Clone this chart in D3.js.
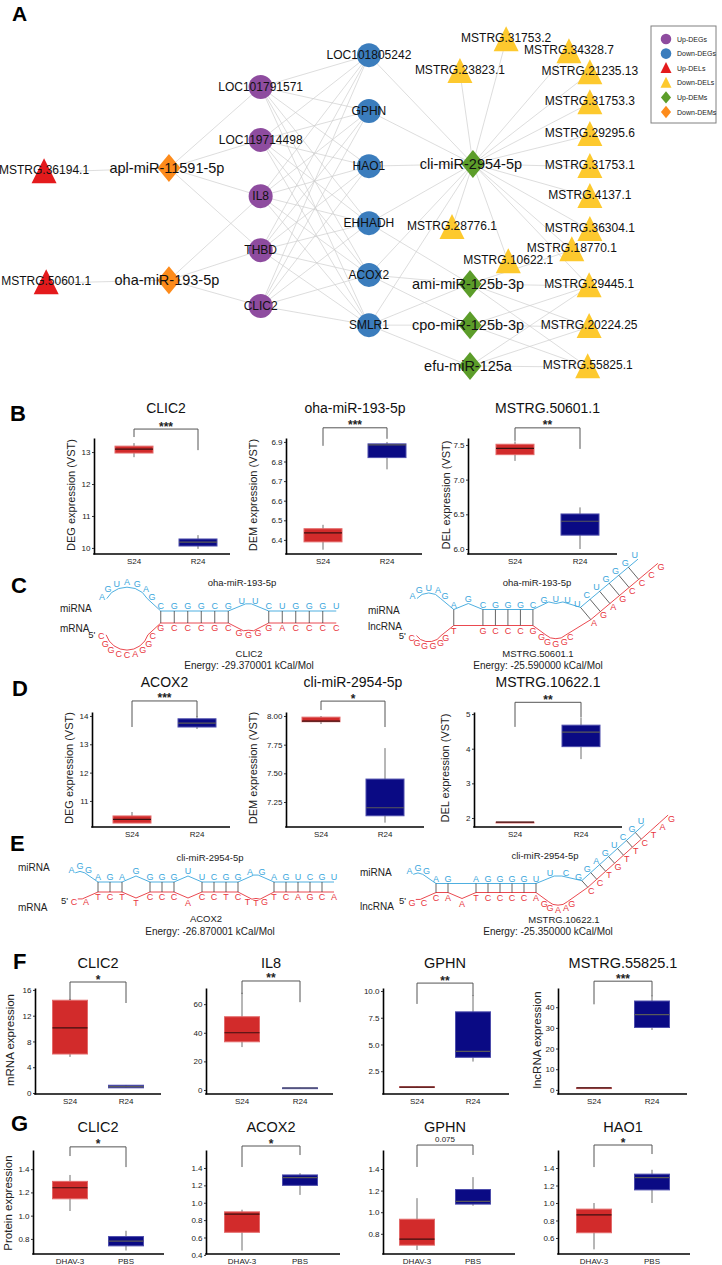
<!DOCTYPE html>
<html>
<head>
<meta charset="utf-8">
<script src="https://cdn.jsdelivr.net/npm/d3@7"></script>
<style>
  body { margin: 0; background: #fff; }
  svg { display: block; font-family: "Liberation Sans", Arial, Helvetica, sans-serif; }
</style>
</head>
<body>
<svg id="fig" width="722" height="1265"></svg>
<script>
// ---------- panel A : ceRNA network ----------
const nodeNames = ["MSTRG.36194.1","MSTRG.50601.1","apl-miR-11591-5p","oha-miR-193-5p",
  "LOC101791571","LOC119714498","IL8","THBD","CLIC2",
  "LOC101805242","GPHN","HAO1","EHHADH","ACOX2","SMLR1",
  "cli-miR-2954-5p","ami-miR-125b-3p","cpo-miR-125b-3p","efu-miR-125a",
  "MSTRG.31753.2","MSTRG.34328.7","MSTRG.23823.1","MSTRG.21235.13","MSTRG.31753.3","MSTRG.29295.6",
  "MSTRG.31753.1","MSTRG.4137.1","MSTRG.28776.1","MSTRG.36304.1","MSTRG.18770.1","MSTRG.10622.1",
  "MSTRG.29445.1","MSTRG.20224.25","MSTRG.55825.1"];
const nodeTypes = ["Up-DELs","Up-DELs","Down-DEMs","Down-DEMs",
  "Up-DEGs","Up-DEGs","Up-DEGs","Up-DEGs","Up-DEGs",
  "Down-DEGs","Down-DEGs","Down-DEGs","Down-DEGs","Down-DEGs","Down-DEGs",
  "Up-DEMs","Up-DEMs","Up-DEMs","Up-DEMs",
  "Down-DELs","Down-DELs","Down-DELs","Down-DELs","Down-DELs","Down-DELs",
  "Down-DELs","Down-DELs","Down-DELs","Down-DELs","Down-DELs","Down-DELs",
  "Down-DELs","Down-DELs","Down-DELs"];
// layout position in % of the panel
const nodeX = [6.1,6.4,23.4,23.4, 36.1,36.1,36.1,36.1,36.1, 51.1,51.1,51.1,51.1,51.1,51.1,
  65.5,65.1,65.1,65.1, 70.1,78.8,63.7,81.7,81.7,81.7, 81.7,81.7,62.6,81.7,79.2,70.4, 81.6,81.6,81.4];
const nodeY = [45.9,75.5,44.8,74.7, 23.2,37.3,52.3,66.7,81.6, 14.7,29.6,44.3,59.5,73.3,86.7,
  43.7,75.7,86.7,97.6, 10.7,13.9,19.2,19.5,27.5,36.0, 44.5,52.5,60.8,61.3,66.7,69.9, 76.3,87.2,97.9];
const netLinks = {
  "MSTRG.36194.1": ["apl-miR-11591-5p"],
  "MSTRG.50601.1": ["oha-miR-193-5p"],
  "apl-miR-11591-5p": ["LOC101791571","LOC119714498","IL8","THBD"],
  "oha-miR-193-5p": ["IL8","THBD","CLIC2"],
  "LOC101791571": ["LOC101805242","GPHN","HAO1","EHHADH","ACOX2","SMLR1"],
  "LOC119714498": ["LOC101805242","GPHN","HAO1","EHHADH","ACOX2","SMLR1"],
  "IL8": ["LOC101805242","GPHN","HAO1","EHHADH","ACOX2","SMLR1"],
  "THBD": ["LOC101805242","GPHN","HAO1","EHHADH","ACOX2","SMLR1"],
  "CLIC2": ["LOC101805242","GPHN","HAO1","EHHADH","ACOX2","SMLR1"],
  "cli-miR-2954-5p": ["LOC101805242","GPHN","HAO1","EHHADH","ACOX2","SMLR1",
    "MSTRG.31753.2","MSTRG.34328.7","MSTRG.23823.1","MSTRG.21235.13","MSTRG.31753.3","MSTRG.29295.6",
    "MSTRG.31753.1","MSTRG.4137.1","MSTRG.28776.1","MSTRG.36304.1","MSTRG.18770.1","MSTRG.10622.1","MSTRG.29445.1"],
  "ami-miR-125b-3p": ["ACOX2","SMLR1","EHHADH","MSTRG.29445.1","MSTRG.20224.25","MSTRG.18770.1","MSTRG.55825.1"],
  "cpo-miR-125b-3p": ["SMLR1","ACOX2","MSTRG.20224.25","MSTRG.29445.1","MSTRG.55825.1"],
  "efu-miR-125a": ["SMLR1","MSTRG.55825.1","MSTRG.20224.25","MSTRG.29445.1"]
};
const legendTypes = ["Up-DEGs","Down-DEGs","Up-DELs","Down-DELs","Up-DEMs","Down-DEMs"];

// ---------- box plot data (min, q1, median, q3, max) ----------
const rnaGroups = ["S24","R24"];
const protGroups = ["DHAV-3","PBS"];

const bTitles = ["CLIC2","oha-miR-193-5p","MSTRG.50601.1"];
const bYTitles = ["DEG expression (VST)","DEM expression (VST)","DEL expression (VST)"];
const bStats = [
  [[12.84,12.97,13.09,13.185,13.28],[9.97,10.06,10.18,10.28,10.40]],
  [[6.35,6.39,6.436,6.457,6.477],[6.76,6.82,6.885,6.89,6.90]],
  [[7.27,7.36,7.45,7.51,7.55],[6.00,6.20,6.40,6.505,6.60]]];
const bTicks = [[10,11,12,13],[6.4,6.5,6.6,6.7,6.8,6.9],[6.0,6.5,7.0,7.5]];
const bFmt = ["d",".1f",".1f"];
const bDomain = [[9.81,13.44],[6.328,6.92],[5.928,7.60]];
const bSig = ["***","***","**"];
const bBracket = [[13.72,13.47,13.06],[6.972,6.88,6.916],[7.746,7.559,7.443]];

const dTitles = ["ACOX2","cli-miR-2954-5p","MSTRG.10622.1"];
const dYTitles = bYTitles;
const dStats = [
  [[10.22,10.22,10.35,10.47,10.61],[13.54,13.61,13.75,13.90,14.00]],
  [[7.93,7.95,7.955,7.99,8.00],[7.07,7.13,7.20,7.45,7.72]],
  [[1.88,1.88,1.88,1.88,1.88],[3.70,4.06,4.48,4.68,4.90]]];
const dTicks = [[11,12,13,14],[7.25,7.5,7.75,8.0],[2,3,4,5]];
const dFmt = ["d",".2f","d"];
const dDomain = [[10.08,14.14],[7.032,8.035],[1.74,5.06]];
const dSig = ["***","*","**"];
const dBracket = [[14.53,13.61,13.97],[8.13,8.052,7.904],[5.34,4.63,4.91]];

const fTitles = ["CLIC2","IL8","GPHN","MSTRG.55825.1"];
const fYTitles = ["mRNA expression","","","lncRNA expression"];
const fStats = [
  [[5.6,6.05,10.1,14.4,14.6],[0.77,0.80,1.00,1.20,1.24]],
  [[30,33.7,40,51.2,68],[1.0,1.2,1.4,1.5,1.6]],
  [[0.95,1.0,1.02,1.05,1.1],[3.4,3.8,4.35,8.05,9.6]],
  [[0.8,0.9,0.95,1.0,1.1],[29,30.2,36.4,43,45.7]]];
const fTicks = [[0,4,8,12,16],[0,20,40,60],[2.5,5.0,7.5,10.0],[0,10,20,30,40]];
const fFmt = ["d","d",".1f","d"];
const fDomain = [[-0.16,16.3],[-2.8,71.3],[0.37,10.28],[-2.0,49.3]];
const fSig = ["*","**","**","***"];
const fBracket = [[17.23,14.44,13.97],[76.2,67.1,61.4],[10.74,8.79,9.53],[52.6,41.4,45.3]];

const gTitles = ["CLIC2","ACOX2","GPHN","HAO1"];
const gYTitles = ["Protein expression","","",""];
const gStats = [
  [[1.04,1.145,1.24,1.295,1.35],[0.70,0.74,0.78,0.82,0.87]],
  [[0.45,0.66,0.87,0.895,0.92],[1.09,1.20,1.29,1.32,1.34]],
  [[0.65,0.695,0.75,0.935,1.13],[1.06,1.075,1.10,1.21,1.325]],
  [[0.47,0.66,0.865,0.93,1.00],[1.00,1.15,1.29,1.33,1.38]]];
const gTicks = [[0.8,1.0,1.2,1.4],[0.4,0.6,0.8,1.0,1.2,1.4],[0.8,1.0,1.2,1.4],[0.6,0.8,1.0,1.2,1.4]];
const gFmt = [".1f",".1f",".1f",".1f"];
const gDomain = [[0.67,1.565],[0.41,1.607],[0.613,1.576],[0.417,1.606]];
const gSig = ["*","*","0.075","*"];
const gBracket = [[1.592,1.513,1.418],[1.653,1.411,1.549],[1.622,1.419,1.53],[1.663,1.411,1.56]];

// ---------- duplex structures (panels C, E) ----------
const cLeftSegs = [
  {k:"loop", t:"AGUAGAG", b:"CGGCCAGGC"},
  {k:"stem", t:"CGGGCG", b:"GCCCGC"},
  {k:"loop", t:"UU", b:"GGG"},
  {k:"stem", t:"CUGGG", b:"GACCC"},
  {k:"end", t:"U", b:"C"}];
const cRightSegs = [
  {k:"loop", t:"AGUAG", b:"CGGGGG"},
  {k:"stem", t:"A", b:"T"},
  {k:"loop", t:"G", b:""},
  {k:"stem", t:"CGGGC", b:"GCCCG"},
  {k:"loop", t:"GUU", b:"GGGGC"},
  {k:"stem", t:"UCUGGG", b:"AGAGCC", turn:-40},
  {k:"end", t:"U", b:"CG"}];
const eLeftSegs = [
  {k:"loop", t:"AGG", b:"CA"},
  {k:"stem", t:"AGA", b:"TCT"},
  {k:"loop", t:"G", b:"T"},
  {k:"stem", t:"GGG", b:"CCC"},
  {k:"loop", t:"U", b:"A"},
  {k:"stem", t:"UCGG", b:"CCTC"},
  {k:"loop", t:"AG", b:"TTG"},
  {k:"stem", t:"AGUCG", b:"TCAGC"},
  {k:"end", t:"U", b:"A"}];
const eRightSegs = [
  {k:"loop", t:"AGG", b:"GC"},
  {k:"stem", t:"AG", b:"CA"},
  {k:"loop", t:"", b:"A"},
  {k:"stem", t:"AGGGGU", b:"TCCCCA"},
  {k:"loop", t:"UC", b:"GGAAG"},
  {k:"stem", t:"GGAGUCG", b:"CCTGTTC", turn:-42},
  {k:"end", t:"U", b:"TAG"}];

// ================= drawing =================
const svg = d3.select("#fig");
const typeColor = {"Up-DEGs":"#8e4c9f","Down-DEGs":"#3b7dbd","Up-DELs":"#e41a1c",
  "Down-DELs":"#fdc92e","Up-DEMs":"#5c9d2a","Down-DEMs":"#fd8b1b"};

function shapePath(type, k) {
  if (type.endsWith("DEGs")) return d3.symbol(d3.symbolCircle, Math.PI * 144 * k * k)();
  if (type.endsWith("DELs")) {
    const w = 12.5 * k, h = 25 * k;
    return `M0,${-0.56 * h}L${w},${0.44 * h}L${-w},${0.44 * h}Z`;
  }
  const w = 11.5 * k, h = 14 * k;
  return `M0,${-h}L${w},0L0,${h}L${-w},0Z`;
}

function panelLetter(t, x, y, size) {
  svg.append("text").attr("x", x).attr("y", y).attr("font-size", size)
    .attr("font-weight", "bold").text(t);
}

// --- panel A
(function drawNetwork() {
  const x = d3.scaleLinear().domain([0, 100]).range([0, 722]);
  const y = d3.scaleLinear().domain([0, 100]).range([0, 375]);
  const nodes = nodeNames.map((n, i) => ({name: n, type: nodeTypes[i], x: x(nodeX[i]), y: y(nodeY[i])}));
  const byName = new Map(nodes.map(d => [d.name, d]));
  const links = [];
  Object.entries(netLinks).forEach(([s, ts]) => ts.forEach(t => links.push([byName.get(s), byName.get(t)])));

  const g = svg.append("g");
  g.selectAll("line.edge").data(links).join("line").attr("class", "edge")
    .attr("x1", d => d[0].x).attr("y1", d => d[0].y).attr("x2", d => d[1].x).attr("y2", d => d[1].y)
    .attr("stroke", "#cfcfcf").attr("stroke-width", 0.7);
  g.selectAll("path.node").data(nodes).join("path").attr("class", "node")
    .attr("transform", d => `translate(${d.x},${d.y})`)
    .attr("d", d => shapePath(d.type, 1)).attr("fill", d => typeColor[d.type]);
  g.selectAll("text.lab").data(nodes).join("text").attr("class", "lab")
    .attr("x", d => d.type.endsWith("DEMs") ? d.x - 2 : d.x)
    .attr("y", d => d.type.endsWith("DELs") ? d.y - 2 : d.y)
    .attr("text-anchor", "middle").attr("dominant-baseline", "central")
    .attr("font-size", d => d.type.endsWith("DEMs") ? 14.5 : 12).attr("fill", "#111")
    .text(d => d.name);

  const lg = svg.append("g").attr("transform", "translate(651,26)");
  lg.append("rect").attr("width", 65).attr("height", 97).attr("fill", "#fff")
    .attr("stroke", "#808080").attr("stroke-width", 1);
  const ly = d3.scalePoint().domain(legendTypes).range([13, 86]);
  legendTypes.forEach(t => {
    lg.append("path").attr("transform", `translate(15,${ly(t)})`)
      .attr("d", shapePath(t, 0.44)).attr("fill", typeColor[t]);
    lg.append("text").attr("x", 26).attr("y", ly(t)).attr("dominant-baseline", "central")
      .attr("font-size", 7).attr("fill", "#222").text(t);
  });
  panelLetter("A", 12, 21, 21);
})();

// --- box plots
const boxCols = [{fill: "#d22b2b", stroke: "#e36a6a", med: "#3d1010"},
                 {fill: "#0a0a84", stroke: "#4d4dac", med: "#5a5a5a"}];

function boxPlot(o) {
  const g = svg.append("g");
  const y = d3.scaleLinear().domain(o.domain).range([o.bot, o.top]);
  const x = d3.scalePoint().domain(o.groups).range(o.cx);

  o.stats.forEach((s, i) => {
    const cx = x(o.groups[i]), col = boxCols[i];
    g.append("line").attr("x1", cx).attr("x2", cx).attr("y1", y(s[0])).attr("y2", y(s[4]))
      .attr("stroke", "#6e6e6e").attr("stroke-width", 1);
    g.append("rect").attr("x", cx - o.bw / 2).attr("width", o.bw)
      .attr("y", y(s[3])).attr("height", Math.max(0.8, y(s[1]) - y(s[3])))
      .attr("fill", col.fill).attr("stroke", col.stroke).attr("stroke-width", 1);
    g.append("line").attr("x1", cx - o.bw / 2).attr("x2", cx + o.bw / 2)
      .attr("y1", y(s[2])).attr("y2", y(s[2])).attr("stroke", col.med).attr("stroke-width", 1.2);
  });

  const ax = g.append("g").attr("transform", `translate(${o.ax},0)`)
    .call(d3.axisLeft(y).tickValues(o.ticks).tickFormat(d3.format(o.fmt))
      .tickSize(2).tickSizeOuter(0).tickPadding(1.5));
  ax.attr("font-family", null).attr("font-size", 8);
  ax.select(".domain").attr("stroke", "#000").attr("stroke-width", 1.6);
  ax.selectAll(".tick line").attr("stroke", "#333");
  ax.selectAll(".tick text").attr("fill", "#222");

  g.append("line").attr("x1", o.ax - 0.8).attr("x2", o.xEnd).attr("y1", o.bot).attr("y2", o.bot)
    .attr("stroke", "#000").attr("stroke-width", 1.6);
  o.groups.forEach(gr => {
    g.append("text").attr("x", x(gr)).attr("y", o.bot + 10).attr("text-anchor", "middle")
      .attr("font-size", 8).attr("fill", "#222").text(gr);
  });

  const [by, lt, rt] = o.bracket;
  const x0 = x(o.groups[0]), x1 = x(o.groups[1]);
  g.append("path").attr("d", `M${x0},${y(lt)}V${y(by)}H${x1}V${y(rt)}`)
    .attr("fill", "none").attr("stroke", "#555").attr("stroke-width", 1);
  const isStar = o.sig.startsWith("*");
  g.append("text").attr("x", (x0 + x1) / 2).attr("y", y(by) + (isStar ? 1.5 : -3))
    .attr("text-anchor", "middle").attr("font-size", isStar ? 12 : 8)
    .attr("font-weight", isStar ? "bold" : "normal").attr("fill", "#222").text(o.sig);

  g.append("text").attr("x", (o.cx[0] + o.cx[1]) / 2).attr("y", o.titleY)
    .attr("text-anchor", "middle").attr("font-size", o.titleSize).attr("fill", "#111").text(o.title);

  if (o.ytitle) {
    g.append("text").attr("transform", `translate(${o.ytx},${o.ytY}) rotate(-90)`)
      .attr("text-anchor", "middle").attr("dominant-baseline", "central")
      .attr("font-size", o.ytSize).attr("fill", "#222").text(o.ytitle);
  }
}

function drawRow(L, titles, ytitles, stats, ticks, fmts, domains, sigs, brackets, groups) {
  titles.forEach((t, i) => boxPlot({
    title: t, ytitle: ytitles[i], stats: stats[i], ticks: ticks[i], fmt: fmts[i],
    domain: domains[i], sig: sigs[i], bracket: brackets[i], groups: groups,
    top: L.top, bot: L.bot, ax: L.ax[i], cx: L.cx[i], xEnd: L.xEnd[i], bw: L.bw,
    titleY: L.titleY, titleSize: L.titleSize, ytx: L.ytx[i], ytY: L.ytY, ytSize: L.ytSize
  }));
}

const layB = {top: 438, bot: 554, ax: [94, 286, 468], cx: [[134, 198], [323, 387], [515, 580]],
  xEnd: [230, 422, 617], bw: 38, titleY: 413, titleSize: 14, ytx: [71, 253, 446], ytY: 495, ytSize: 11};
const layD = {top: 712, bot: 827, ax: [92, 286, 474], cx: [[132, 197], [321, 385], [515, 581]],
  xEnd: [230, 424, 622], bw: 38, titleY: 687, titleSize: 14, ytx: [69, 253, 445], ytY: 768, ytSize: 11};
const layF = {top: 988, bot: 1094, ax: [35, 206, 383, 558], cx: [[70, 126], [242, 300], [417, 473], [594, 652]],
  xEnd: [161, 333, 509, 687], bw: 35, titleY: 968, titleSize: 14.5, ytx: [10, 0, 0, 537], ytY: 1040, ytSize: 11.5};
const layG = {top: 1150, bot: 1254, ax: [33, 206, 383, 558], cx: [[70, 126], [242, 300], [417, 473], [594, 652]],
  xEnd: [164, 340, 515, 690], bw: 35, titleY: 1132, titleSize: 14.5, ytx: [8, 0, 0, 0], ytY: 1203, ytSize: 11.5};

drawRow(layB, bTitles, bYTitles, bStats, bTicks, bFmt, bDomain, bSig, bBracket, rnaGroups);
drawRow(layD, dTitles, dYTitles, dStats, dTicks, dFmt, dDomain, dSig, dBracket, rnaGroups);
drawRow(layF, fTitles, fYTitles, fStats, fTicks, fFmt, fDomain, fSig, fBracket, rnaGroups);
drawRow(layG, gTitles, gYTitles, gStats, gTicks, gFmt, gDomain, gSig, gBracket, protGroups);

panelLetter("B", 10, 421, 22);
panelLetter("D", 12, 696, 22);
panelLetter("F", 13, 969, 22);
panelLetter("G", 11, 1131, 22);

// --- duplexes
const miColor = "#3aa6dc", tgColor = "#e8343c";

function duplex(segs, o) {
  let px = o.x0, py = o.y0, th = 0;
  const topPts = [], botPts = [], bonds = [];
  const step = o.S;
  segs.forEach(sg => {
    if (sg.turn != null) {
      const nt = sg.turn * Math.PI / 180;
      // step forward a little so the upper strand does not fold back on the turn
      const adv = o.H * Math.abs(Math.sin(nt - th));
      px += adv * Math.cos(th); py += adv * Math.sin(th);
      th = nt;
    }
    const dx = Math.cos(th), dy = Math.sin(th), nx = -Math.sin(th), ny = Math.cos(th);
    const t = sg.t.split(""), b = sg.b.split("");
    if (sg.k !== "loop") {
      const n = Math.max(t.length, b.length);
      for (let i = 0; i < n; i++) {
        const cx = px + (i + 0.5) * step * dx, cy = py + (i + 0.5) * step * dy;
        if (t[i]) topPts.push({c: t[i], x: cx - o.H * nx, y: cy - o.H * ny, ix: nx, iy: ny});
        if (b[i]) botPts.push({c: b[i], x: cx + o.H * nx, y: cy + o.H * ny, ix: -nx, iy: -ny});
        if (sg.k === "stem") bonds.push([cx - (o.H - 5) * nx, cy - (o.H - 5) * ny, cx + (o.H - 5) * nx, cy + (o.H - 5) * ny]);
      }
      px += n * step * dx; py += n * step * dy;
    } else {
      const m = Math.max(t.length, b.length);
      const Lc = step * (1 + m / 3), a = Lc / 2;
      const mx = px + a * dx, my = py + a * dy;
      [[t, -1, topPts, 10], [b, 1, botPts, 8.5]].forEach(([arr, side, pts, gap]) => {
        const k = arr.length;
        if (!k) return;
        const P = (k + 1) * gap * step / 13.5;
        const hb = Math.max(6, Math.min(40, Math.sqrt(Math.max(0, 2 * (P / Math.PI) ** 2 - a * a))));
        const ex = mx + side * o.H * nx, ey = my + side * o.H * ny;
        arr.forEach((c, i) => {
          const phi = Math.PI * (1 - (i + 1) / (k + 1));
          const u = a * Math.cos(phi), v = o.H + hb * Math.sin(phi);
          const X = mx + u * dx + side * v * nx, Y = my + u * dy + side * v * ny;
          const len = Math.hypot(ex - X, ey - Y) || 1;
          pts.push({c, x: X, y: Y, ix: (ex - X) / len, iy: (ey - Y) / len});
        });
      });
      px += Lc * dx; py += Lc * dy;
    }
  });

  const g = svg.append("g");
  const line = d3.line().x(d => d.x + 5 * d.ix).y(d => d.y + 5 * d.iy);
  g.append("path").attr("d", line(topPts)).attr("fill", "none").attr("stroke", miColor).attr("stroke-width", 0.9);
  g.append("path").attr("d", line(botPts)).attr("fill", "none").attr("stroke", tgColor).attr("stroke-width", 0.9);
  g.selectAll("line.bond").data(bonds).join("line").attr("class", "bond")
    .attr("x1", d => d[0]).attr("y1", d => d[1]).attr("x2", d => d[2]).attr("y2", d => d[3])
    .attr("stroke", "#222").attr("stroke-width", 0.7);
  [[topPts, miColor], [botPts, tgColor]].forEach(([pts, col]) => {
    g.selectAll(null).data(pts).join("text").attr("x", d => d.x).attr("y", d => d.y)
      .attr("text-anchor", "middle").attr("dominant-baseline", "central")
      .attr("font-size", 9).attr("fill", col).text(d => d.c);
  });
  g.append("text").attr("x", botPts[0].x - 6).attr("y", botPts[0].y - 2).attr("text-anchor", "end")
    .attr("dominant-baseline", "central").attr("font-size", 9.5).attr("fill", "#222").text("5'");
}

function note(t, x, y, size, anchor) {
  svg.append("text").attr("x", x).attr("y", y).attr("text-anchor", anchor || "middle")
    .attr("dominant-baseline", "central").attr("font-size", size).attr("fill", "#222").text(t);
}

duplex(cLeftSegs, {x0: 100, y0: 617, S: 13.5, H: 11});
duplex(cRightSegs, {x0: 410, y0: 617.5, S: 12.5, H: 13});
duplex(eLeftSegs, {x0: 68, y0: 887, S: 12, H: 10});
duplex(eRightSegs, {x0: 406, y0: 888, S: 12, H: 9.5});

note("oha-miR-193-5p", 242, 582, 9.5); note("CLIC2", 249, 653, 9.5);
note("Energy: -29.370001 kCal/Mol", 249, 665, 10);
note("miRNA", 60, 608, 10, "start"); note("mRNA", 60, 628, 10, "start");
note("oha-miR-193-5p", 537, 582, 9.5); note("MSTRG.50601.1", 538, 653, 9.5);
note("Energy: -25.590000 kCal/Mol", 538, 665, 10);
note("miRNA", 368, 610, 10, "start"); note("lncRNA", 368, 626, 10, "start");

note("cli-miR-2954-5p", 210, 857, 9.5); note("ACOX2", 206, 918, 9.5);
note("Energy: -26.870001 kCal/Mol", 210, 931, 10);
note("miRNA", 18, 867, 10, "start"); note("mRNA", 18, 907, 10, "start");
note("cli-miR-2954-5p", 545, 855, 9.5); note("MSTRG.10622.1", 564, 919, 9.5);
note("Energy: -25.350000 kCal/Mol", 548, 931, 10);
note("miRNA", 360, 872, 10, "start"); note("lncRNA", 360, 906, 10, "start");

panelLetter("C", 11, 593, 22);
panelLetter("E", 10, 851, 22);
</script>
</body>
</html>
